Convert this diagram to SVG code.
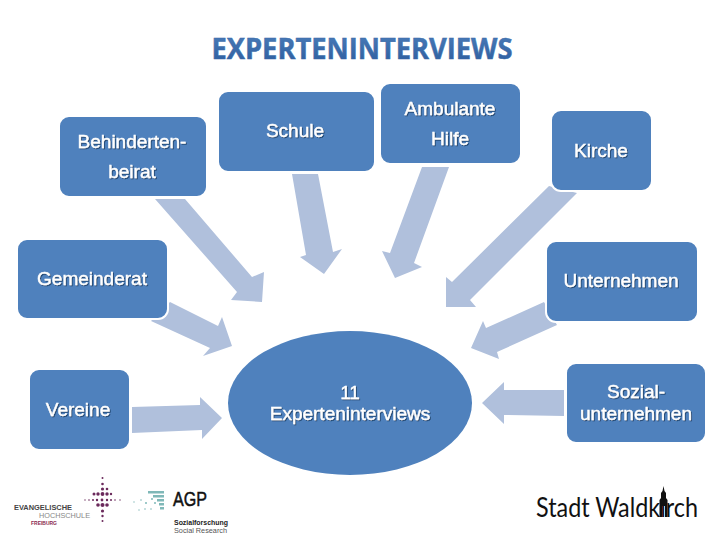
<svg xmlns="http://www.w3.org/2000/svg" width="720" height="540" viewBox="0 0 720 540">
<style>
.box{fill:#4f81bd;stroke:#fff;stroke-width:2}
.arr{fill:#b0c0dc}
.lbl{font-family:"Liberation Sans",Arial,sans-serif;font-size:19px;fill:#fff;text-anchor:middle;stroke:#fff;stroke-width:.4;filter:url(#sh)}
.title{font-family:"Open Sans","Liberation Sans",sans-serif;font-size:29px;font-weight:700;fill:url(#tg);stroke:#3a6aa8;stroke-width:.5;text-anchor:middle}
.logo{font-family:"Liberation Sans",Arial,sans-serif}
.dp{fill:#6b2a5c}
.dt{fill:#7fb8b8}
</style>
<defs>
<linearGradient id="tg" x1="0" y1="0" x2="0" y2="1"><stop offset="0" stop-color="#4f81bd"/><stop offset="1" stop-color="#2a5a9c"/></linearGradient>
<filter id="sh" x="-10%" y="-20%" width="120%" height="150%"><feDropShadow dx="1" dy="1" stdDeviation=".5" flood-color="#1f3a60" flood-opacity=".8"/></filter>
</defs>
<rect width="720" height="540" fill="#fff"/>
<text class="title" x="362" y="59" textLength="301" lengthAdjust="spacingAndGlyphs">EXPERTENINTERVIEWS</text>

<g id="connectors">
<polygon class="arr" points="155,199 185,199 252,277 264,272 262,302 231,300 237,292"/>
<polygon class="arr" points="292,174 318,174 333,252 342,249 324,274 300,257 306,255"/>
<polygon class="arr" points="422,167 449,167 414,263 422,267 395,278 382,251 390,253"/>
<polygon class="arr" points="549,186 577,193 470,300 476,307 446,307 446,277 452,282"/>
<polygon class="arr" points="544,302 557,325 497,352 499,359 471,348 483,321 486,328"/>
<polygon class="arr" points="170,302 151,321 210,348 203,356 232,346 222,317 218,326"/>
<polygon class="arr" points="132,407 132,433 202,430 202,439 222,418 200,397 200,405"/>
<polygon class="arr" points="564,390 564,416 504,415 504,424 482,403 504,382 504,390"/>
</g>

<g id="n-behinderten"><rect class="box" x="59" y="116" width="148" height="81" rx="10"/><text class="lbl" x="132" y="148">Behinderten-</text><text class="lbl" x="132" y="178">beirat</text></g>
<g id="n-schule"><rect class="box" x="218" y="91" width="157" height="81" rx="10"/><text class="lbl" x="295" y="137">Schule</text></g>
<g id="n-ambulante"><rect class="box" x="380" y="83" width="141" height="81" rx="10"/><text class="lbl" x="450" y="115">Ambulante</text><text class="lbl" x="450" y="145">Hilfe</text></g>
<g id="n-kirche"><rect class="box" x="551" y="110" width="101" height="81" rx="10"/><text class="lbl" x="601" y="157">Kirche</text></g>
<g id="n-gemeinderat"><rect class="box" x="17" y="239" width="151" height="80" rx="10"/><text class="lbl" x="92" y="285">Gemeinderat</text></g>
<g id="n-unternehmen"><rect class="box" x="546" y="241" width="152" height="81" rx="10"/><text class="lbl" x="621" y="287">Unternehmen</text></g>
<g id="n-vereine"><rect class="box" x="29" y="369" width="101" height="81" rx="10"/><text class="lbl" x="78" y="416">Vereine</text></g>
<g id="n-sozial"><rect class="box" x="566" y="363" width="140" height="80" rx="10"/><text class="lbl" x="636" y="398">Sozial-</text><text class="lbl" x="636" y="420">unternehmen</text></g>
<g id="n-center"><ellipse cx="350" cy="403" rx="122" ry="72" fill="#4f81bd"/><text class="lbl" x="350" y="399">11</text><text class="lbl" x="350" y="420">Experteninterviews</text></g>

<g id="logo-eh">
<text class="logo" x="14" y="510" font-size="8" font-weight="700" fill="#444" textLength="58" lengthAdjust="spacingAndGlyphs">EVANGELISCHE</text>
<text class="logo" x="39" y="518" font-size="8" fill="#888" textLength="51" lengthAdjust="spacingAndGlyphs">HOCHSCHULE</text>
<text class="logo" x="31" y="524.500" font-size="5" font-weight="700" fill="#8a2a50" textLength="26" lengthAdjust="spacingAndGlyphs">FREIBURG</text>
<g class="dp">
<circle cx="102.500" cy="478" r="1"/><circle cx="102.500" cy="484" r="1.300"/><circle cx="102.500" cy="489" r="1.600"/><circle cx="107" cy="489" r="1.300"/>
<circle cx="94" cy="494" r="1.500"/><circle cx="98" cy="494" r="1.700"/><circle cx="102.500" cy="494" r="1.900"/><circle cx="107" cy="494" r="1.700"/><circle cx="111" cy="494" r="1.200"/>
<circle cx="85" cy="500" r=".7"/><circle cx="89" cy="500" r=".8"/><circle cx="93" cy="500" r="1"/><circle cx="97" cy="500" r="1.200"/><circle cx="102" cy="500" r="1.400"/><circle cx="107" cy="500" r="1.200"/><circle cx="111" cy="500" r="1"/><circle cx="115" cy="500" r=".8"/><circle cx="120" cy="500" r=".7"/>
<circle cx="98" cy="505" r="1.800"/><circle cx="102.500" cy="505" r="2"/><circle cx="107" cy="505" r="1.800"/>
<circle cx="102.500" cy="511" r="1.600"/><circle cx="102.500" cy="516" r="1.200"/><circle cx="102.500" cy="521" r="1"/>
</g>
</g>
<g id="logo-agp">
<g class="dt">
<rect x="148" y="491" width="16" height="2.500"/><rect x="153" y="495" width="11" height="2.500"/><rect x="157" y="499" width="7" height="2.500"/><rect x="159" y="503" width="5" height="2.500"/><rect x="160" y="507" width="4" height="2.500"/>
<circle cx="152" cy="499" r="1"/><circle cx="155" cy="503" r="1"/><circle cx="146" cy="503" r="1"/><circle cx="141" cy="500" r=".8"/><circle cx="134" cy="502" r=".7"/><circle cx="145" cy="509" r=".8"/><circle cx="151" cy="509" r=".8"/><circle cx="139" cy="510" r=".7"/>
</g>
<text class="logo" x="173" y="506" font-size="20" fill="#111" stroke="#111" stroke-width=".5" textLength="34" lengthAdjust="spacingAndGlyphs">AGP</text>
<text class="logo" x="174" y="525" font-size="8" font-weight="700" fill="#222" textLength="54" lengthAdjust="spacingAndGlyphs">Sozialforschung</text>
<text class="logo" x="174" y="533" font-size="8" fill="#555" textLength="53" lengthAdjust="spacingAndGlyphs">Social Research</text>
</g>
<g id="logo-waldkirch">
<text x="536" y="517" font-family="Lato,'Open Sans',sans-serif" font-size="27" fill="#111" textLength="162" lengthAdjust="spacingAndGlyphs">Stadt Waldkirch</text>
<path d="M663.500 486l1 5 1.500 2v5l1.500 2v17h-2.500v-11h-3v11h-2.500v-17l1.500-2v-5l1.500-2z" fill="#111"/>
</g>
</svg>
